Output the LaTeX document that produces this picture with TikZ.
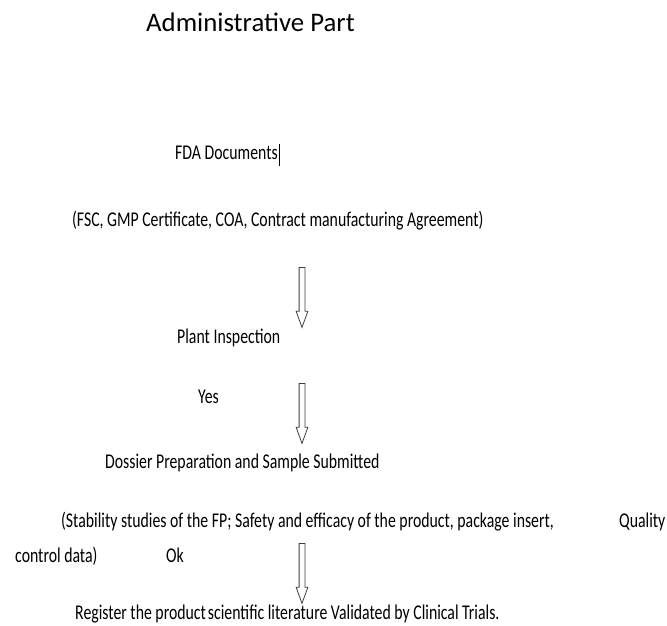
\documentclass[tikz,border=0pt]{standalone}
\usepackage{fontspec}
\setmainfont{Carlito}
\newfontfamily\bodyfont[FakeStretch=0.752]{Carlito}
\usepackage{tikz}
\usetikzlibrary{shapes.arrows, positioning}
\tikzset{
    titletext/.style={anchor=base west, inner sep=0pt, font=\fontsize{26.8}{30}\selectfont},
    flowtext/.style={anchor=base west, inner sep=0pt, font=\bodyfont\fontsize{21}{24}\selectfont},
    downarrow/.style={single arrow, draw=black!75, fill=white, line width=0.8pt,
        rotate=-90, anchor=tail, inner xsep=0pt, inner ysep=2.5pt,
        single arrow head extend=3pt, single arrow tip angle=40, minimum height=60pt},
}

\begin{document}
\begin{tikzpicture}[x=1pt, y=1pt]
    \useasboundingbox (0,0) rectangle (667,-626);

    % Heading
    \node[titletext] (title) at (146,-32) {Administrative Part};

    % Documents submitted to FDA
    \node[flowtext] (fda) at (175,-159) {FDA Documents};
    \draw[line width=1.6pt] ([xshift=1.5pt, yshift=-7pt]fda.base east) -- ++(0,22);
    \node[flowtext] (fdadocs) at (72,-226)
        {(FSC, GMP Certificate, COA, Contract manufacturing Agreement)};

    \node[downarrow] (arrA) at (302,-267) {};

    % Inspection
    \node[flowtext] (plant) at (177,-343) {Plant Inspection};
    \node[flowtext] (yes) at (198,-403) {Yes};

    \node[downarrow] (arrB) at (302,-383) {};

    % Dossier
    \node[flowtext] (dossier) at (105,-468) {Dossier Preparation and Sample Submitted};
    \node[flowtext] (stability) at (61,-527)
        {(Stability studies of the FP; Safety and efficacy of the product, package insert,};
    \node[flowtext] (quality) at (619,-527) {Quality};
    \node[flowtext] (control) at (15,-562) {control data)};
    \node[flowtext] (ok) at (166,-562) {Ok};

    \node[downarrow] (arrC) at (302,-543) {};

    % Registration
    \node[flowtext] (register) at (75,-619)
        {Register the product\hspace{-1.5pt} scientific literature Validated\ by Clinical Trials.};
\end{tikzpicture}
\end{document}
